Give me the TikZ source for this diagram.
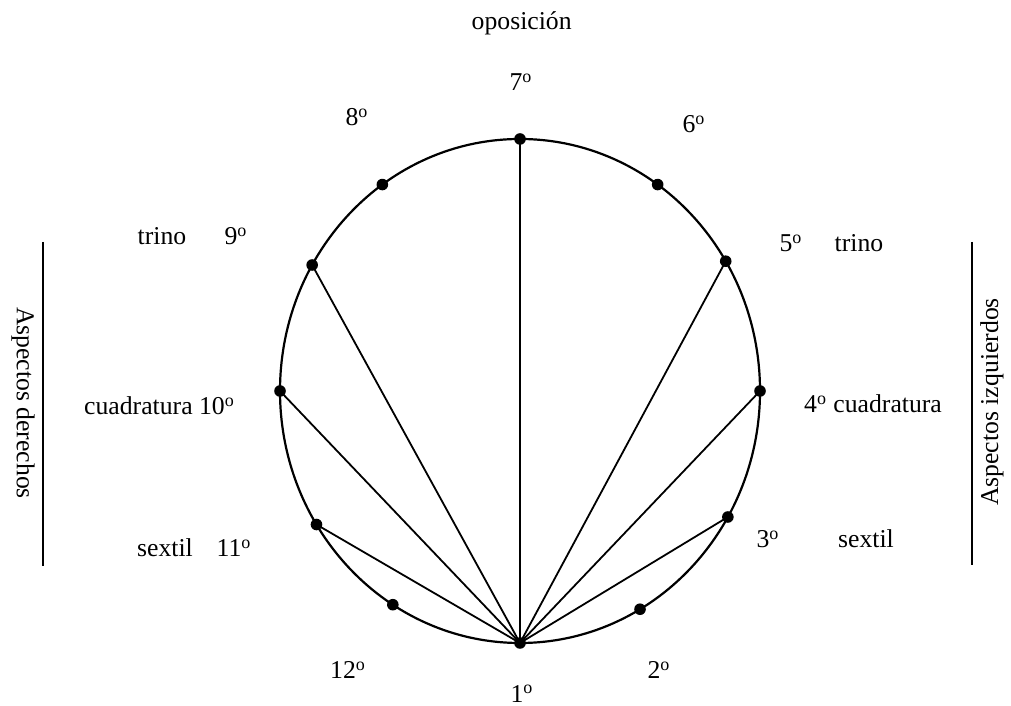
\documentclass[tikz,border=0pt]{standalone}
\usepackage{fontspec}
\setmainfont{Liberation Serif}

\newcommand{\ord}[1]{#1\textsuperscript{o}}

\begin{document}
\begin{tikzpicture}[x=0.5pt,y=0.5pt,
  every node/.style={font=\fontsize{12.85}{15}\selectfont,inner sep=0pt},
  lbl/.style={anchor=base},
  dot/.style={circle,fill,inner sep=0pt,minimum size=5.8pt},
  spoke/.style={line width=0.9pt},
  rim/.style={line width=1.1pt}]
  \useasboundingbox (0,0) rectangle (1011,706);
  \coordinate (c) at (520,315);
  \draw[rim] (c) ellipse [x radius=240,y radius=252];
  \foreach \n/\a in {1/270,2/300,3/330,4/0,5/31,6/55,7/90,8/125,9/150,10/180,11/212,12/238}
    \path (c) ++(\a:240 and 252) coordinate (h\n);
  \foreach \n in {3,4,5,7,9,10,11}
    \draw[spoke] (h1) -- (h\n);
  \foreach \n in {1,...,12}
    \node[dot] (d\n) at (h\n) {};
  \node[lbl] (opos) at (521.7,676) {oposición};
  \node[lbl] (l7) at (521,615) {\ord{7}};
  \node[lbl] (l8) at (357,580) {\ord{8}};
  \node[lbl] (l6) at (694,573) {\ord{6}};
  \node[lbl] (trinoL) at (162,461) {trino};
  \node[lbl] (l9) at (236,461) {\ord{9}};
  \node[lbl] (l5) at (791,454) {\ord{5}};
  \node[lbl] (trinoR) at (859,454) {trino};
  \node[lbl] (cuadL) at (159.5,291) {cuadratura \ord{10}};
  \node[lbl] (cuadR) at (873,293) {\ord{4} cuadratura};
  \node[lbl] (sextL) at (165,149) {sextil};
  \node[lbl] (l11) at (234,149) {\ord{11}};
  \node[lbl] (l3) at (768,158) {\ord{3}};
  \node[lbl] (sextR) at (866,158) {sextil};
  \node[lbl] (l12) at (348,27) {\ord{12}};
  \node[lbl] (l2) at (659,27) {\ord{2}};
  \node[lbl] (l1) at (522,3.5) {\ord{1}};
  \node[rotate=-90] (aspDer) at (23,303) {Aspectos derechos};
  \node[rotate=90] (aspIzq) at (992,304) {Aspectos izquierdos};
  \coordinate (derTop) at (43,464);
  \coordinate (derBot) at (43,140);
  \coordinate (izqTop) at (972,464);
  \coordinate (izqBot) at (972,141);
  \draw[rim] (derTop) -- (derBot);
  \draw[rim] (izqTop) -- (izqBot);
\end{tikzpicture}
\end{document}
